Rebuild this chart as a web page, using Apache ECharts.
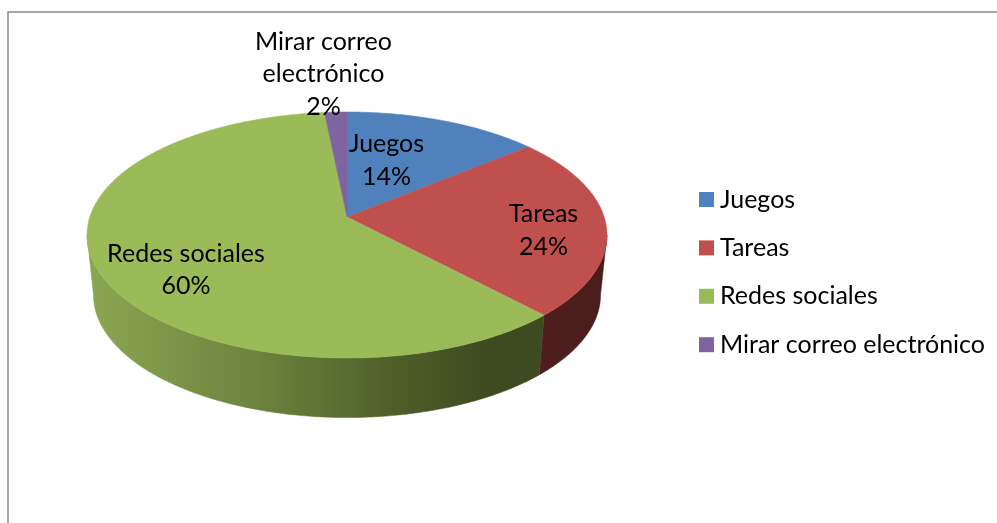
<!DOCTYPE html>
<html>
<head>
<meta charset="utf-8">
<style>html,body{margin:0;padding:0;background:#fff}#c{width:997px;height:523px}</style>
<script src="https://cdn.jsdelivr.net/npm/echarts@6/dist/echarts.min.js"></script>
</head>
<body>
<div id="c"></div>
<script>
const categories = ['Juegos', 'Tareas', 'Redes sociales', 'Mirar correo electrónico'];
const values = [14, 24, 60.4, 1.6];
const colors = ['#4f81bd', '#c0504d', '#9bbb59', '#8064a2'];

// Layout of the tilted pie (perspective projection of a disc)
const FONT = 'Lato, "Open Sans", sans-serif';
const TOP = {cx: 347, cy: 217, a: 257.2, b: 120.4, k: 0.1463};
const BASE = {cx: 347, cy: 277, a: 250.8, b: 120, k: 0.1463};
const labelCentres = [[386.5, 160.5], [543.5, 230.5], [186, 270], [323.5, 74]];

const WALL_FILL = [
  '#3e1a1a',
  {type: 'linear', global: true, x: 540, y: 0, x2: 607, y2: 0,
   colorStops: [{offset: 0, color: '#4f1f1f'}, {offset: 1, color: '#4a1c1c'}]},
  {type: 'linear', global: true, x: 90, y: 0, x2: 490, y2: 0,
   colorStops: [{offset: 0, color: '#8aa652'}, {offset: 0.4, color: '#6e853f'},
                {offset: 0.75, color: '#4f6029'}, {offset: 1, color: '#3e4a1f'}]},
  '#4a3a60'
];

const total = values.reduce((s, v) => s + v, 0);
const startShare = values.map((_, i) => values.slice(0, i).reduce((s, v) => s + v, 0) / total);

function project(p, theta) {
  const s = -Math.cos(theta), d = 1 - p.k * s;
  return [p.cx + p.a * Math.sin(theta) / d, p.cy + p.b * s / d];
}
function arc(p, t0, t1) {
  const n = Math.max(2, Math.ceil(Math.abs(t1 - t0) / 0.01)), pts = [];
  for (let i = 0; i <= n; i++) pts.push(project(p, t0 + (t1 - t0) * i / n));
  return pts;
}

function renderSlice(idx) {
  return function (params, api) {
    const share = api.value(0) / total;
    const t0 = startShare[idx] * 2 * Math.PI, t1 = t0 + share * 2 * Math.PI;
    const children = [];
    // visible wall: near half of the rim between the silhouette tangents
    const tanR = Math.acos(-TOP.k), tanL = 2 * Math.PI - tanR;
    const w0 = Math.max(t0, tanR), w1 = Math.min(t1, tanL);
    if (w1 > w0) {
      const pts = arc(TOP, w0, w1).concat(arc(BASE, w1, w0));
      children.push({type: 'polygon', shape: {points: pts},
        style: {fill: WALL_FILL[idx], stroke: WALL_FILL[idx], lineWidth: 0.5}});
    }
    const face = [[TOP.cx, TOP.cy]].concat(arc(TOP, t0, t1));
    children.push({type: 'polygon', shape: {points: face},
      style: {fill: colors[idx], stroke: colors[idx], lineWidth: 0.5}});
    const name = idx === 3 ? 'Mirar correo\nelectrónico' : categories[idx];
    children.push({type: 'text', z2: 10,
      x: labelCentres[idx][0], y: labelCentres[idx][1],
      style: {text: name + '\n' + Math.round(share * 100) + '%',
        fontFamily: FONT, fontSize: 25, lineHeight: 32.5,
        fill: '#000', align: 'center', verticalAlign: 'middle'}});
    return {type: 'group', children};
  };
}

const chart = echarts.init(document.getElementById('c'), null, {renderer: 'canvas'});
chart.setOption({
  animation: false,
  backgroundColor: '#fff',
  tooltip: {show: false},
  legend: {
    orient: 'vertical', left: 694, top: 182, itemWidth: 15, itemHeight: 15, itemGap: 23.4,
    selectedMode: false,
    textStyle: {fontFamily: FONT, fontSize: 25, color: '#000', padding: [0, 0, 0, 1]},
    data: categories.map((name, i) => ({name, icon: 'rect', itemStyle: {color: colors[i]}}))
  },
  graphic: [{
    type: 'polyline', silent: true,
    shape: {points: [[997, 12], [8, 12], [8, 523]]},
    style: {stroke: '#8c8c8c', lineWidth: 1.5, fill: null}
  }],
  series: categories.map((name, i) => ({
    type: 'custom', name, coordinateSystem: 'none', silent: true,
    itemStyle: {color: colors[i]},
    renderItem: renderSlice(i),
    data: [[values[i]]]
  }))
});
</script>
</body>
</html>
